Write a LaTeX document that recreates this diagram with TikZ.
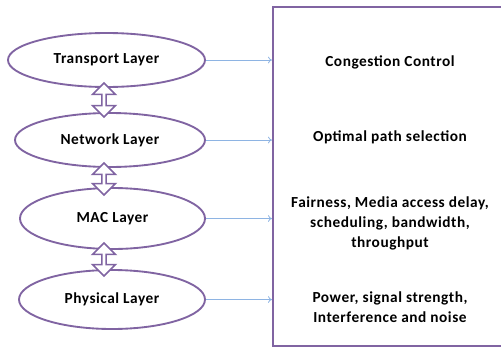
\documentclass[tikz,border=0pt]{standalone}
\usepackage{fontspec}
\setmainfont{Carlito}[LetterSpace=3.5]
\usetikzlibrary{shapes.geometric, shapes.arrows, arrows.meta}
\definecolor{layerpurple}{HTML}{8064A2}
\definecolor{linkblue}{HTML}{8EB4E3}

\begin{document}
\begin{tikzpicture}[x=0.75pt, y=-0.75pt,
	layer/.style={ellipse, draw=layerpurple, line width=1.4pt, inner sep=0pt, font=\bfseries\fontsize{11.5}{15}\selectfont},
	updown/.style={double arrow, rotate=90, draw=layerpurple, line width=1.2pt, fill=white, inner sep=0pt, minimum width=17pt, double arrow head extend=2.5pt},
	issue/.style={align=center, font=\bfseries\fontsize{11.5}{15}\selectfont},
	link/.style={linkblue, line width=0.6pt, -{To[length=3pt, width=5pt]}}]
	\useasboundingbox (0,0) rectangle (501,347);
	% the box of issues, runs off the right edge
	\node (box) [draw=layerpurple, line width=1.6pt, anchor=north west, minimum width=200pt, minimum height=254.25pt] at (272,6) {};
	% the layers
	\node (transport) [layer, minimum width=147.75pt, minimum height=40.5pt] at (106.5,60) {Transport Layer};
	\node (network) [layer, minimum width=142.5pt, minimum height=40.5pt] at (110,140) {Network Layer};
	\node (mac) [layer, minimum width=138.75pt, minimum height=45.75pt] at (112.5,218.5) {MAC Layer};
	\node (physical) [layer, minimum width=139.5pt, minimum height=44.25pt] at (112,299.5) {Physical Layer};
	% arrows between the layers
	\node (tn) [updown, minimum height=25.5pt] at (104,100) {};
	\node (nm) [updown, minimum height=24pt] at (104,179) {};
	\node (mp) [updown, minimum height=24.75pt] at (104,259.5) {};
	% what each layer is about
	\node (congestion) [issue] at (390,62) {Congestion Control};
	\node (path) [issue] at (390,137) {Optimal path selection};
	\node (fairness) [issue] at (390,223) {Fairness, Media access delay,\\scheduling, bandwidth,\\throughput};
	\node (power) [issue] at (390,307.5) {Power, signal strength,\\Interference and noise};
	\draw [link] (transport.east) -- (transport.east -| box.west);
	\draw [link] (network.east) -- (network.east -| box.west);
	\draw [link] (mac.east) -- (mac.east -| box.west);
	\draw [link] (physical.east) -- (physical.east -| box.west);
\end{tikzpicture}
\end{document}
